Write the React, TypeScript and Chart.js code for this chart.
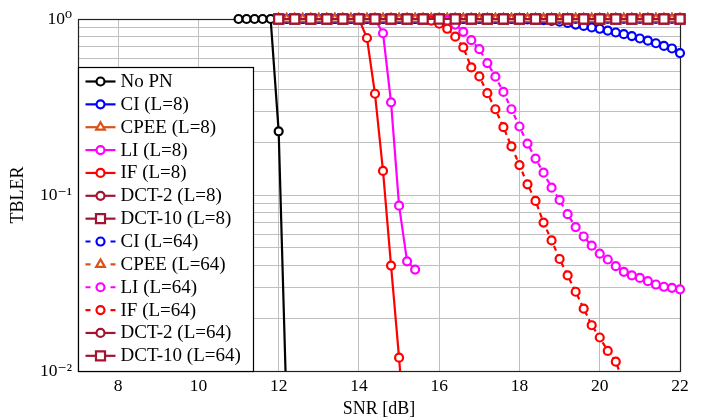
import { useEffect, useRef } from "react";
import { Chart, registerables } from "chart.js";

Chart.register(...registerables);

// ---------- data ----------
const snrNoPN = [11, 11.2, 11.4, 11.6, 11.8, 12, 12.2];
const tblerNoPN = [1, 1, 1, 1, 1, 0.23, 0.0058];

const snrFine = [
  12, 12.2, 12.4, 12.6, 12.8, 13, 13.2, 13.4, 13.6, 13.8, 14, 14.2, 14.4, 14.6, 14.8, 15, 15.2,
  15.4, 15.6, 15.8, 16, 16.2, 16.4, 16.6, 16.8, 17, 17.2, 17.4, 17.6, 17.8, 18, 18.2, 18.4, 18.6,
  18.8, 19, 19.2, 19.4, 19.6, 19.8, 20, 20.2, 20.4, 20.6, 20.8, 21, 21.2, 21.4, 21.6, 21.8, 22,
];
const snrCoarse = [
  12, 12.4, 12.8, 13.2, 13.6, 14, 14.4, 14.8, 15.2, 15.6, 16, 16.4, 16.8, 17.2, 17.6, 18, 18.4,
  18.8, 19.2, 19.6, 20, 20.4, 20.8, 21.2, 21.6, 22,
];

const tblerCI8 = [
  1, 1, 1, 1, 1, 1, 1, 1, 1, 1, 1, 1, 1, 1, 1, 1, 1, 1, 1, 1, 1, 1, 1, 1, 1, 1, 1, 1, 1, 1, 1,
  0.995, 0.99, 0.985, 0.975, 0.965, 0.95, 0.93, 0.913, 0.895, 0.88, 0.858, 0.838, 0.82, 0.8,
  0.775, 0.753, 0.728, 0.703, 0.68, 0.64,
];
const tblerCPEE8 = [
  1, 1, 1, 1, 1, 1, 1, 1, 1, 1, 1, 1, 1, 1, 1, 1, 1, 1, 1, 1, 1, 1, 1, 1, 1, 1, 1, 1, 1, 1, 1,
  1, 1, 1, 1, 1, 1, 1, 1, 1, 1, 1, 1, 1, 1, 1, 1, 1, 1, 1, 1,
];
const snrLI8 = [14.4, 14.6, 14.8, 15, 15.2, 15.4];
const tblerLI8 = [1, 0.83, 0.336, 0.087, 0.042, 0.0377];
const snrIF8 = [14, 14.2, 14.4, 14.6, 14.8, 15, 15.2];
const tblerIF8 = [1, 0.78, 0.376, 0.137, 0.0397, 0.0119, 0.003];
const tblerDCT2_8 = [1, 1, 1, 1, 1, 1, 1, 1, 1, 1, 1, 1, 1, 1, 1, 1, 1, 1, 1, 1, 1, 1, 1, 1, 1, 1];
const tblerDCT10_8 = [1, 1, 1, 1, 1, 1, 1, 1, 1, 1, 1, 1, 1, 1, 1, 1, 1, 1, 1, 1, 1, 1, 1, 1, 1, 1];

const tblerCI64 = [
  1, 1, 1, 1, 1, 1, 1, 1, 1, 1, 1, 1, 1, 1, 1, 1, 1, 1, 1, 1, 1, 1, 1, 1, 1, 1, 1, 1, 1, 1, 1,
  1, 1, 1, 1, 1, 1, 1, 1, 1, 1, 1, 1, 1, 1, 1, 1, 1, 1, 1, 1,
];
const tblerCPEE64 = [
  1, 1, 1, 1, 1, 1, 1, 1, 1, 1, 1, 1, 1, 1, 1, 1, 1, 1, 1, 1, 1, 1, 1, 1, 1, 1, 1, 1, 1, 1, 1,
  1, 1, 1, 1, 1, 1, 1, 1, 1, 1, 1, 1, 1, 1, 1, 1, 1, 1, 1, 1,
];
const snrLI64 = [
  16, 16.2, 16.4, 16.6, 16.8, 17, 17.2, 17.4, 17.6, 17.8, 18, 18.2, 18.4, 18.6, 18.8, 19, 19.2,
  19.4, 19.6, 19.8, 20, 20.2, 20.4, 20.6, 20.8, 21, 21.2, 21.4, 21.6, 21.8, 22,
];
const tblerLI64 = [
  1, 0.98, 0.93, 0.845, 0.758, 0.674, 0.562, 0.47, 0.385, 0.307, 0.245, 0.196, 0.161, 0.134,
  0.11, 0.0937, 0.0778, 0.0657, 0.0581, 0.0515, 0.0464, 0.043, 0.0394, 0.0366, 0.0349, 0.0338,
  0.0324, 0.031, 0.0301, 0.0297, 0.0291,
];
const snrIF64 = [
  15.6, 15.8, 16, 16.2, 16.4, 16.6, 16.8, 17, 17.2, 17.4, 17.6, 17.8, 18, 18.2, 18.4, 18.6, 18.8,
  19, 19.2, 19.4, 19.6, 19.8, 20, 20.2, 20.4, 20.6,
];
const tblerIF64 = [
  1, 0.98, 0.94, 0.88, 0.794, 0.689, 0.531, 0.472, 0.379, 0.307, 0.243, 0.189, 0.148, 0.115,
  0.0925, 0.0697, 0.0552, 0.0433, 0.0349, 0.0282, 0.0226, 0.0182, 0.0155, 0.013, 0.0113, 0.0085,
];
const tblerDCT2_64 = [1, 1, 1, 1, 1, 1, 1, 1, 1, 1, 1, 1, 1, 1, 1, 1, 1, 1, 1, 1, 1, 1, 1, 1, 1, 1];
const tblerDCT10_64 = [1, 1, 1, 1, 1, 1, 1, 1, 1, 1, 1, 1, 1, 1, 1, 1, 1, 1, 1, 1, 1, 1, 1, 1, 1, 1];

const xTickValues = [8, 10, 12, 14, 16, 18, 20, 22];
const yGridValues = [
  0.01, 0.02, 0.03, 0.04, 0.05, 0.06, 0.07, 0.08, 0.09, 0.1, 0.2, 0.3, 0.4, 0.5, 0.6, 0.7, 0.8,
  0.9, 1,
];
const yTickValues = [0.01, 0.1, 1];
const yTickLabels = ["10\u207B\u00B2", "10\u207B\u00B9", "10\u2070"];

// ---------- styling ----------
const BLACK = "#000000";
const BLUE = "#0000ff";
const ORANGE = "#d95319";
const MAGENTA = "#ff00ff";
const RED = "#ff0000";
const DARKRED = "#a2142f";
const FONT = "'Liberation Serif', 'DejaVu Serif', serif";
const DASH = [5, 4];

type Spec = {
  label: string;
  xs: number[];
  ys: number[];
  color: string;
  dashed: boolean;
  marker: "circle" | "triangle" | "rect";
};

const specs: Spec[] = [
  { label: "No PN", xs: snrNoPN, ys: tblerNoPN, color: BLACK, dashed: false, marker: "circle" },
  { label: "CI (L=8)", xs: snrFine, ys: tblerCI8, color: BLUE, dashed: false, marker: "circle" },
  { label: "CPEE (L=8)", xs: snrFine, ys: tblerCPEE8, color: ORANGE, dashed: false, marker: "triangle" },
  { label: "LI (L=8)", xs: snrLI8, ys: tblerLI8, color: MAGENTA, dashed: false, marker: "circle" },
  { label: "IF (L=8)", xs: snrIF8, ys: tblerIF8, color: RED, dashed: false, marker: "circle" },
  { label: "DCT-2 (L=8)", xs: snrCoarse, ys: tblerDCT2_8, color: DARKRED, dashed: false, marker: "circle" },
  { label: "DCT-10 (L=8)", xs: snrCoarse, ys: tblerDCT10_8, color: DARKRED, dashed: false, marker: "rect" },
  { label: "CI (L=64)", xs: snrFine, ys: tblerCI64, color: BLUE, dashed: true, marker: "circle" },
  { label: "CPEE (L=64)", xs: snrFine, ys: tblerCPEE64, color: ORANGE, dashed: true, marker: "triangle" },
  { label: "LI (L=64)", xs: snrLI64, ys: tblerLI64, color: MAGENTA, dashed: true, marker: "circle" },
  { label: "IF (L=64)", xs: snrIF64, ys: tblerIF64, color: RED, dashed: true, marker: "circle" },
  { label: "DCT-2 (L=64)", xs: snrCoarse, ys: tblerDCT2_64, color: DARKRED, dashed: false, marker: "circle" },
  { label: "DCT-10 (L=64)", xs: snrCoarse, ys: tblerDCT10_64, color: DARKRED, dashed: false, marker: "rect" },
];

const LINE_W = 2.2;
const CIRCLE_R = 4;
const RECT_R = 6.4;
const TRI_R = 5;

function markerRadius(m: Spec["marker"]) {
  return m === "rect" ? RECT_R : m === "triangle" ? TRI_R : CIRCLE_R;
}

function drawMarker(ctx: CanvasRenderingContext2D, m: Spec["marker"], x: number, y: number, color: string) {
  const r = markerRadius(m);
  ctx.save();
  ctx.setLineDash([]);
  ctx.lineWidth = LINE_W;
  ctx.strokeStyle = color;
  ctx.fillStyle = "#ffffff";
  ctx.beginPath();
  if (m === "circle") {
    ctx.arc(x, y, r, 0, Math.PI * 2);
  } else if (m === "rect") {
    const s = r * Math.SQRT1_2;
    ctx.rect(x - s, y - s, 2 * s, 2 * s);
  } else {
    let a = 0;
    ctx.moveTo(x + Math.sin(a) * r, y - Math.cos(a) * r);
    a += (2 * Math.PI) / 3;
    ctx.lineTo(x + Math.sin(a) * r, y - Math.cos(a) * r);
    a += (2 * Math.PI) / 3;
    ctx.lineTo(x + Math.sin(a) * r, y - Math.cos(a) * r);
    ctx.closePath();
  }
  ctx.fill();
  ctx.stroke();
  ctx.restore();
}

const framePlugin = {
  id: "frame",
  beforeDatasetsDraw(chart: any) {
    const { ctx, chartArea } = chart;
    ctx.save();
    ctx.strokeStyle = "#222222";
    ctx.lineWidth = 1.2;
    ctx.strokeRect(
      Math.round(chartArea.left) + 0.5,
      Math.round(chartArea.top) + 0.5,
      Math.round(chartArea.right - chartArea.left),
      Math.round(chartArea.bottom - chartArea.top)
    );
    ctx.restore();
  },
};

const legendPlugin = {
  id: "insideLegend",
  afterDatasetsDraw(chart: any) {
    const { ctx, chartArea } = chart;
    const left = Math.round(chartArea.left) + 0.5;
    const bottom = Math.round(chartArea.bottom) + 0.5;
    const w = 175;
    const h = 304;
    const top = bottom - h;
    ctx.save();
    ctx.fillStyle = "#ffffff";
    ctx.fillRect(left, top, w, h);
    ctx.strokeStyle = "#000000";
    ctx.lineWidth = 1.2;
    ctx.strokeRect(left, top, w, h);
    const step = 22.86;
    specs.forEach((s, i) => {
      const cy = top + 14 + i * step;
      const x0 = left + 7;
      const x1 = x0 + 30;
      const xm = (x0 + x1) / 2;
      ctx.strokeStyle = s.color;
      ctx.lineWidth = LINE_W;
      ctx.setLineDash([]);
      ctx.beginPath();
      if (s.dashed) {
        ctx.moveTo(x0, cy);
        ctx.lineTo(x0 + 5, cy);
        ctx.moveTo(x1 - 5, cy);
        ctx.lineTo(x1, cy);
      } else {
        ctx.moveTo(x0, cy);
        ctx.lineTo(x1, cy);
      }
      ctx.stroke();
      drawMarker(ctx, s.marker, xm, cy, s.color);
      ctx.fillStyle = "#000000";
      ctx.font = `19px ${FONT}`;
      ctx.textBaseline = "middle";
      ctx.textAlign = "left";
      ctx.fillText(s.label, x1 + 5, cy + 0.5);
    });
    ctx.restore();
  },
};

export default function App() {
  const canvasRef = useRef<HTMLCanvasElement | null>(null);

  useEffect(() => {
    const canvas = canvasRef.current;
    if (!canvas) return;
    const n = specs.length;
    const datasets = specs.map((s, i) => ({
      label: s.label,
      data: s.xs.map((x, k) => ({ x, y: s.ys[k] })),
      borderColor: s.color,
      backgroundColor: s.color,
      borderWidth: LINE_W,
      borderDash: s.dashed ? DASH : [],
      pointStyle: s.marker,
      pointRadius: markerRadius(s.marker),
      pointBorderWidth: LINE_W,
      pointBorderColor: s.color,
      pointBackgroundColor: "#ffffff",
      pointHoverRadius: markerRadius(s.marker),
      tension: 0,
      fill: false,
      order: n - i,
      clip: { left: 0, top: 12, right: 12, bottom: 0 },
    }));

    const tickFont = { family: FONT, size: 17.5 };
    const titleFont = { family: FONT, size: 18 };

    const chart = new Chart(canvas, {
      type: "line",
      data: { datasets },
      plugins: [framePlugin, legendPlugin],
      options: {
        responsive: false,
        animation: false,
        events: [],
        layout: { padding: { left: 0, right: 22, top: 19, bottom: 0 } },
        plugins: {
          legend: { display: false },
          tooltip: { enabled: false },
        },
        scales: {
          x: {
            type: "linear",
            min: 7,
            max: 22,
            afterFit: (s: any) => {
              s.height = 49;
            },
            afterBuildTicks: (s: any) => {
              s.ticks = xTickValues.map((v) => ({ value: v }));
            },
            grid: { color: "#c0c0c0", lineWidth: 1, drawTicks: false },
            border: { display: false },
            ticks: {
              font: tickFont,
              color: "#000000",
              padding: 5,
              autoSkip: false,
              maxRotation: 0,
              callback: (v: any) => String(v),
            },
            title: {
              display: true,
              text: "SNR [dB]",
              font: titleFont,
              color: "#000000",
              padding: { top: 0, bottom: 0 },
            },
          },
          y: {
            type: "logarithmic",
            min: 0.01,
            max: 1,
            afterFit: (s: any) => {
              s.width = 78;
            },
            afterBuildTicks: (s: any) => {
              s.ticks = yGridValues.map((v) => ({ value: v }));
            },
            grid: { color: "#c0c0c0", lineWidth: 1, drawTicks: false },
            border: { display: false },
            ticks: {
              font: tickFont,
              color: "#000000",
              padding: 6,
              autoSkip: false,
              callback: (v: any) => {
                const idx = yTickValues.findIndex((t) => Math.abs(t - Number(v)) < 1e-9);
                return idx >= 0 ? yTickLabels[idx] : "";
              },
            },
            title: {
              display: true,
              text: "TBLER",
              font: titleFont,
              color: "#000000",
              padding: { top: 7, bottom: 0 },
            },
          },
        },
      } as any,
    });
    return () => chart.destroy();
  }, []);

  return (
    <div style={{ position: "absolute", left: 0, top: 0, width: 702, height: 420, background: "#fff" }}>
      <canvas ref={canvasRef} width={702} height={420} style={{ width: 702, height: 420 }} />
    </div>
  );
}
